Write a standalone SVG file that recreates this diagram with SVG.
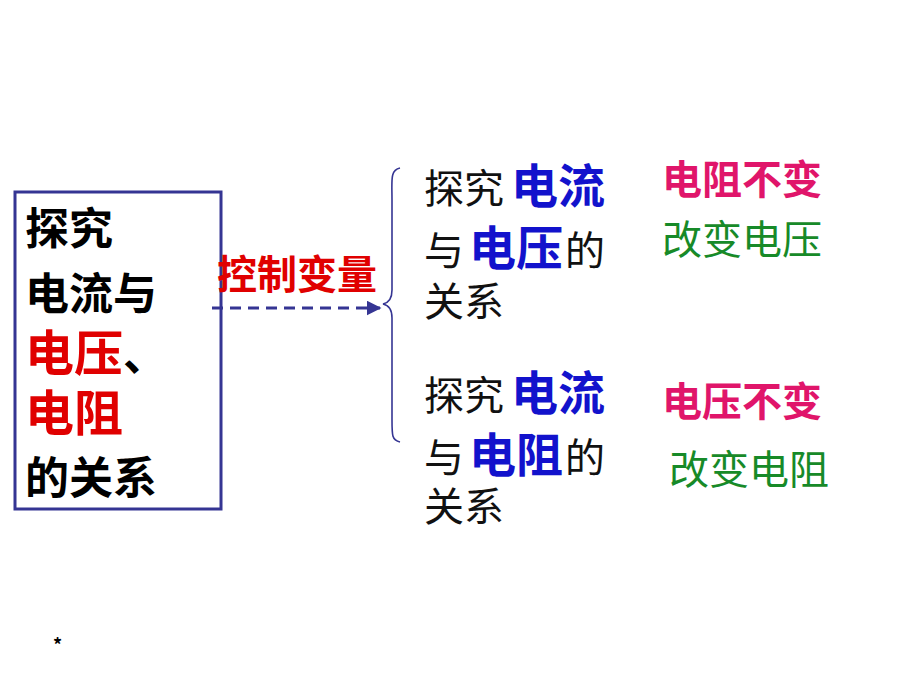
<svg xmlns="http://www.w3.org/2000/svg" width="920" height="690" viewBox="0 0 920 690">
<defs>
<style>
text{font-family:"Noto Sans CJK SC","Noto Sans",sans-serif}
.k{fill:#000;font-weight:700;font-size:44px}
.r{fill:#e00000;font-weight:700;font-size:49px}
.n{fill:#111;font-weight:400;font-size:40px}
.b{fill:#1212cc;font-weight:700;font-size:47px}
.p{fill:#e0156a;font-weight:700;font-size:40px}
.g{fill:#178a28;font-weight:400;font-size:40px}
.ln{fill:none;stroke:#353593}
</style>
<marker id="ah" viewBox="0 0 10 10" refX="9" refY="5" markerWidth="5" markerHeight="5" orient="auto">
<path d="M0,0L10,5L0,10z" fill="#353593"/>
</marker>
</defs>
<rect width="920" height="690" fill="#fff"/>
<g id="topic">
<rect x="15" y="192" width="206" height="317" class="ln" stroke-width="3"/>
<text class="k" x="25" y="245">探究</text>
<text class="k" x="25" y="310">电流与</text>
<text x="25" y="371"><tspan class="r">电压</tspan><tspan class="k">、</tspan></text>
<text class="r" x="25" y="431">电阻</text>
<text class="k" x="25" y="494">的关系</text>
</g>
<g id="connectors">
<line x1="212" y1="308" x2="380" y2="308" class="ln" stroke-width="3" stroke-dasharray="11,7" marker-end="url(#ah)"/>
<path d="M400,168 C390,170 392,180 392,200 L392,290 C392,300 388,303 383,304 C388,305 392,308 392,318 L392,420 C392,436 392,440 400,442" class="ln" stroke-width="1.6"/>
<text x="217" y="289" fill="#e00000" font-weight="700" font-size="40">控制变量</text>
</g>
<g id="study1">
<text x="424" y="203"><tspan class="n">探究</tspan><tspan class="b" x="511">电流</tspan></text>
<text x="424" y="265"><tspan class="n">与</tspan><tspan class="b" x="469">电压</tspan><tspan class="n" x="565">的</tspan></text>
<text class="n" x="424" y="316">关系</text>
</g>
<g id="study2">
<text x="424" y="410"><tspan class="n">探究</tspan><tspan class="b" x="511">电流</tspan></text>
<text x="424" y="472"><tspan class="n">与</tspan><tspan class="b" x="469">电阻</tspan><tspan class="n" x="565">的</tspan></text>
<text class="n" x="424" y="521">关系</text>
</g>
<g id="cond1">
<text class="p" x="662" y="194">电阻不变</text>
<text class="g" x="662" y="254">改变电压</text>
</g>
<g id="cond2">
<text class="p" x="662" y="416">电压不变</text>
<text class="g" x="669" y="484">改变电阻</text>
</g>
<text x="53" y="652" font-family="Liberation Sans,sans-serif" font-size="18" font-weight="700" fill="#000">*</text>
</svg>
